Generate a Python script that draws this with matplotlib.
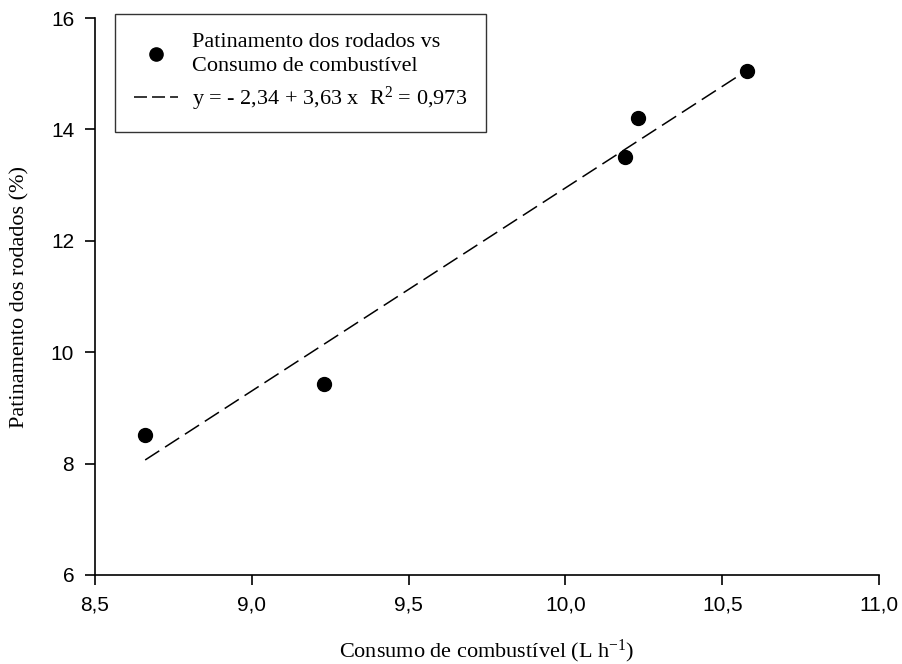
import numpy as np
import matplotlib
matplotlib.use("Agg")
import matplotlib.pyplot as plt
from matplotlib.lines import Line2D

consumo = [8.66, 9.23, 10.19, 10.23, 10.58]
patinamento = [8.52, 9.43, 13.50, 14.20, 15.05]
x_ticks = [8.5, 9.0, 9.5, 10.0, 10.5, 11.0]
x_ticklabels = ["8,5", "9,0", "9,5", "10,0", "10,5", "11,0"]
y_ticks = [6, 8, 10, 12, 14, 16]

plt.rcParams['mathtext.fontset'] = 'custom'
plt.rcParams['mathtext.rm'] = 'Liberation Serif'
plt.rcParams['mathtext.it'] = 'Liberation Serif:italic'

fig = plt.figure(figsize=(9.02, 6.64), dpi=100)
ax = fig.add_axes([95/902, 1-575/664, (879-95)/902, (575-18)/664])

slope, intercept = np.polyfit(consumo, patinamento, 1)
xl = np.array([min(consumo), max(consumo)])
ax.plot(xl, intercept + slope*xl, color='black', lw=1.1, dashes=(11, 4.5))
ax.plot(consumo, patinamento, 'o', color='black', ms=10, clip_on=False)

ax.set_xlim(8.5, 11.0)
ax.set_ylim(6, 16)
ax.set_xticks(x_ticks)
ax.set_xticklabels(x_ticklabels)
ax.set_yticks(y_ticks)
for s in ['top', 'right']:
    ax.spines[s].set_visible(False)
for s in ['left', 'bottom']:
    ax.spines[s].set_linewidth(1.2)
ax.tick_params(direction='out', length=7, width=1.2, labelsize=15, pad=8)
for lab in ax.get_xticklabels() + ax.get_yticklabels():
    lab.set_family('Liberation Sans')

ax.set_xlabel("Consumo de combustível (L h$^{\\mathregular{-1}}$)", family='Liberation Serif', fontsize=16)
ax.set_ylabel("Patinamento dos rodados (%)", family='Liberation Serif', fontsize=16)
ax.xaxis.set_label_coords(0.5, -0.112)
ax.yaxis.set_label_coords(-0.084, 0.5)

handles = [Line2D([], [], marker='o', ls='none', color='black', ms=9.5),
           Line2D([], [], color='black', lw=1.1, dashes=(8.5, 3.3))]
labels = ["Patinamento dos rodados vs\nConsumo de combustível",
          "y = - 2,34 + 3,63 x  R$^{\\mathregular{2}}$ = 0,973"]
leg = fig.legend(handles, labels, loc='upper left', bbox_to_anchor=(115/902, 1 - 14/664),
                 prop={'family': 'Liberation Serif', 'size': 16}, frameon=True, fancybox=False,
                 edgecolor='black', handlelength=2.0, handletextpad=0.6, borderpad=0.85,
                 labelspacing=0.4, borderaxespad=0)
leg.get_texts()[0].set_linespacing(1.35)
leg.get_frame().set_linewidth(1.0)

fig.savefig("out.png", dpi=100)
